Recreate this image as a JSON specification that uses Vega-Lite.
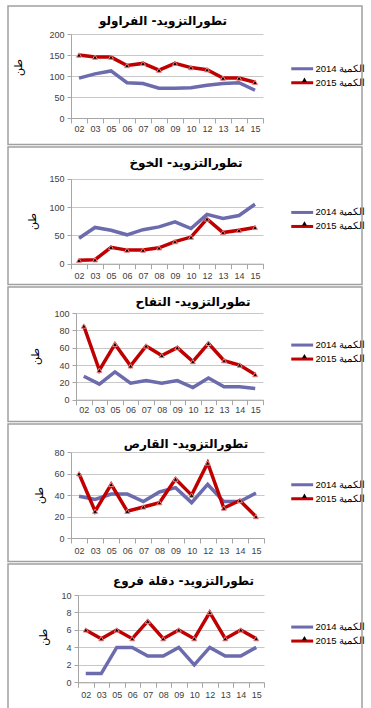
{
  "$schema": "https://vega.github.io/schema/vega-lite/v6.json",
  "padding": {"left": 7, "top": 5, "right": 0, "bottom": 0},
  "spacing": 0,
  "config": {
    "view": {"stroke": "#A0A0A0", "strokeWidth": 1.5},
    "font": "Liberation Sans",
    "axis": {"labelFont": "Liberation Sans", "labelFontSize": 9, "labelColor": "#404040", "domainColor": "#A6A6A6", "tickColor": "#A6A6A6", "gridColor": "#C8C8C8", "titleFont": "DejaVu Sans", "titleFontWeight": "normal", "titleFontSize": 11, "titleColor": "#000000"},
    "title": {"font": "DejaVu Sans", "fontSize": 12, "fontWeight": "bold", "color": "#000000", "anchor": "middle", "baseline": "middle"},
    "legend": {"title": null, "padding": 0, "labelFont": "Liberation Sans", "labelFontSize": 9.5, "labelColor": "#000000"}
  },
  "datasets": {
    "d": [
      {"p":1,"m":"02","s":"الكمية 2014","v":95},{"p":1,"m":"03","s":"الكمية 2014","v":105},{"p":1,"m":"05","s":"الكمية 2014","v":112},{"p":1,"m":"06","s":"الكمية 2014","v":84},{"p":1,"m":"07","s":"الكمية 2014","v":82},{"p":1,"m":"08","s":"الكمية 2014","v":71},{"p":1,"m":"09","s":"الكمية 2014","v":71},{"p":1,"m":"10","s":"الكمية 2014","v":72},{"p":1,"m":"12","s":"الكمية 2014","v":78},{"p":1,"m":"13","s":"الكمية 2014","v":82},{"p":1,"m":"14","s":"الكمية 2014","v":84},{"p":1,"m":"15","s":"الكمية 2014","v":66},
      {"p":1,"m":"02","s":"الكمية 2015","v":150},{"p":1,"m":"03","s":"الكمية 2015","v":145},{"p":1,"m":"05","s":"الكمية 2015","v":145},{"p":1,"m":"06","s":"الكمية 2015","v":125},{"p":1,"m":"07","s":"الكمية 2015","v":130},{"p":1,"m":"08","s":"الكمية 2015","v":114},{"p":1,"m":"09","s":"الكمية 2015","v":130},{"p":1,"m":"10","s":"الكمية 2015","v":120},{"p":1,"m":"12","s":"الكمية 2015","v":115},{"p":1,"m":"13","s":"الكمية 2015","v":95},{"p":1,"m":"14","s":"الكمية 2015","v":95},{"p":1,"m":"15","s":"الكمية 2015","v":85},
      {"p":2,"m":"02","s":"الكمية 2014","v":45},{"p":2,"m":"03","s":"الكمية 2014","v":64},{"p":2,"m":"05","s":"الكمية 2014","v":59},{"p":2,"m":"06","s":"الكمية 2014","v":51},{"p":2,"m":"07","s":"الكمية 2014","v":60},{"p":2,"m":"08","s":"الكمية 2014","v":65},{"p":2,"m":"09","s":"الكمية 2014","v":74},{"p":2,"m":"10","s":"الكمية 2014","v":62},{"p":2,"m":"12","s":"الكمية 2014","v":87},{"p":2,"m":"13","s":"الكمية 2014","v":80},{"p":2,"m":"14","s":"الكمية 2014","v":85},{"p":2,"m":"15","s":"الكمية 2014","v":105},
      {"p":2,"m":"02","s":"الكمية 2015","v":6},{"p":2,"m":"03","s":"الكمية 2015","v":7},{"p":2,"m":"05","s":"الكمية 2015","v":29},{"p":2,"m":"06","s":"الكمية 2015","v":24},{"p":2,"m":"07","s":"الكمية 2015","v":24},{"p":2,"m":"08","s":"الكمية 2015","v":28},{"p":2,"m":"09","s":"الكمية 2015","v":39},{"p":2,"m":"10","s":"الكمية 2015","v":47},{"p":2,"m":"12","s":"الكمية 2015","v":79},{"p":2,"m":"13","s":"الكمية 2015","v":55},{"p":2,"m":"14","s":"الكمية 2015","v":59},{"p":2,"m":"15","s":"الكمية 2015","v":64},
      {"p":3,"m":"02","s":"الكمية 2014","v":27},{"p":3,"m":"03","s":"الكمية 2014","v":18},{"p":3,"m":"05","s":"الكمية 2014","v":32},{"p":3,"m":"06","s":"الكمية 2014","v":19},{"p":3,"m":"07","s":"الكمية 2014","v":22},{"p":3,"m":"08","s":"الكمية 2014","v":19},{"p":3,"m":"09","s":"الكمية 2014","v":22},{"p":3,"m":"10","s":"الكمية 2014","v":14},{"p":3,"m":"12","s":"الكمية 2014","v":25},{"p":3,"m":"13","s":"الكمية 2014","v":15},{"p":3,"m":"14","s":"الكمية 2014","v":15},{"p":3,"m":"15","s":"الكمية 2014","v":13},
      {"p":3,"m":"02","s":"الكمية 2015","v":85},{"p":3,"m":"03","s":"الكمية 2015","v":34},{"p":3,"m":"05","s":"الكمية 2015","v":64},{"p":3,"m":"06","s":"الكمية 2015","v":39},{"p":3,"m":"07","s":"الكمية 2015","v":62},{"p":3,"m":"08","s":"الكمية 2015","v":51},{"p":3,"m":"09","s":"الكمية 2015","v":60},{"p":3,"m":"10","s":"الكمية 2015","v":44},{"p":3,"m":"12","s":"الكمية 2015","v":65},{"p":3,"m":"13","s":"الكمية 2015","v":45},{"p":3,"m":"14","s":"الكمية 2015","v":40},{"p":3,"m":"15","s":"الكمية 2015","v":29},
      {"p":4,"m":"02","s":"الكمية 2014","v":39},{"p":4,"m":"03","s":"الكمية 2014","v":36},{"p":4,"m":"05","s":"الكمية 2014","v":41},{"p":4,"m":"06","s":"الكمية 2014","v":41},{"p":4,"m":"07","s":"الكمية 2014","v":34},{"p":4,"m":"08","s":"الكمية 2014","v":43},{"p":4,"m":"09","s":"الكمية 2014","v":47},{"p":4,"m":"10","s":"الكمية 2014","v":33},{"p":4,"m":"12","s":"الكمية 2014","v":50},{"p":4,"m":"13","s":"الكمية 2014","v":34},{"p":4,"m":"14","s":"الكمية 2014","v":34},{"p":4,"m":"15","s":"الكمية 2014","v":42},
      {"p":4,"m":"02","s":"الكمية 2015","v":60},{"p":4,"m":"03","s":"الكمية 2015","v":25},{"p":4,"m":"05","s":"الكمية 2015","v":50},{"p":4,"m":"06","s":"الكمية 2015","v":25},{"p":4,"m":"07","s":"الكمية 2015","v":29},{"p":4,"m":"08","s":"الكمية 2015","v":33},{"p":4,"m":"09","s":"الكمية 2015","v":55},{"p":4,"m":"10","s":"الكمية 2015","v":40},{"p":4,"m":"12","s":"الكمية 2015","v":70},{"p":4,"m":"13","s":"الكمية 2015","v":28},{"p":4,"m":"14","s":"الكمية 2015","v":35},{"p":4,"m":"15","s":"الكمية 2015","v":20},
      {"p":5,"m":"02","s":"الكمية 2014","v":1},{"p":5,"m":"03","s":"الكمية 2014","v":1},{"p":5,"m":"05","s":"الكمية 2014","v":4},{"p":5,"m":"06","s":"الكمية 2014","v":4},{"p":5,"m":"07","s":"الكمية 2014","v":3},{"p":5,"m":"08","s":"الكمية 2014","v":3},{"p":5,"m":"09","s":"الكمية 2014","v":4},{"p":5,"m":"10","s":"الكمية 2014","v":2},{"p":5,"m":"12","s":"الكمية 2014","v":4},{"p":5,"m":"13","s":"الكمية 2014","v":3},{"p":5,"m":"14","s":"الكمية 2014","v":3},{"p":5,"m":"15","s":"الكمية 2014","v":4},
      {"p":5,"m":"02","s":"الكمية 2015","v":6},{"p":5,"m":"03","s":"الكمية 2015","v":5},{"p":5,"m":"05","s":"الكمية 2015","v":6},{"p":5,"m":"06","s":"الكمية 2015","v":5},{"p":5,"m":"07","s":"الكمية 2015","v":7},{"p":5,"m":"08","s":"الكمية 2015","v":5},{"p":5,"m":"09","s":"الكمية 2015","v":6},{"p":5,"m":"10","s":"الكمية 2015","v":5},{"p":5,"m":"12","s":"الكمية 2015","v":8},{"p":5,"m":"13","s":"الكمية 2015","v":5},{"p":5,"m":"14","s":"الكمية 2015","v":6},{"p":5,"m":"15","s":"الكمية 2015","v":5}
    ]
  },
  "resolve": {"scale": {"x": "independent", "y": "independent", "color": "independent", "shape": "independent"}, "legend": {"color": "independent", "shape": "independent"}},
  "vconcat": [
    {
      "width": 354, "height": 138.5,
      "title": {"text": "تطورالتزويد- الفراولو", "offset": -27, "dx": -22, "baseline": "middle"},
      "data": {"name": "d"},
      "transform": [{"filter": "datum.p == 1"}],
      "encoding": {
        "x": {"field": "m", "type": "ordinal", "scale": {"type": "band", "range": [63, 255], "paddingInner": 0, "paddingOuter": 0}, "axis": {"offset": -26.5, "tickBand": "extent", "labelAngle": 0, "title": null, "tickSize": 5, "labelPadding": 1, "grid": false}},
        "y": {"field": "v", "type": "quantitative", "scale": {"domain": [0, 200], "range": [112, 28], "nice": false}, "axis": {"offset": -63, "values": [0, 50, 100, 150, 200], "title": "طن", "titleX": -48, "titleY": 61, "tickSize": 4, "labelPadding": 3, "grid": true}}
      },
      "layer": [
        {"mark": {"type": "line", "strokeWidth": 3.5}, "encoding": {"color": {"field": "s", "type": "nominal", "scale": {"domain": ["الكمية 2014", "الكمية 2015"], "range": ["#6B6BAD", "#C00000"]}, "legend": {"orient": "none", "legendX": 298, "legendY": 58, "symbolType": "M-6.5,0H0.8", "symbolSize": 36, "symbolStrokeWidth": 3, "labelOffset": 0, "rowPadding": 1}}}},
        {"transform": [{"filter": "datum.s == 'الكمية 2015'"}], "mark": {"type": "point", "filled": true, "fill": "#000000", "stroke": "#F08080", "strokeWidth": 1, "size": 25, "opacity": 1}, "encoding": {"shape": {"field": "s", "type": "nominal", "scale": {"domain": ["الكمية 2015"], "range": ["triangle-up"]}, "legend": {"orient": "none", "legendX": 291.7, "legendY": 69, "symbolSize": 25, "symbolFillColor": "#000000", "symbolStrokeColor": "#F08080", "symbolStrokeWidth": 1, "labelExpr": "''"}}}}
      ]
    },
    {
      "width": 354, "height": 137.5,
      "title": {"text": "تطورالتزويد- الخوخ", "offset": -28, "dx": 1, "baseline": "middle"},
      "data": {"name": "d"},
      "transform": [{"filter": "datum.p == 2"}],
      "encoding": {
        "x": {"field": "m", "type": "ordinal", "scale": {"type": "band", "range": [63, 255], "paddingInner": 0, "paddingOuter": 0}, "axis": {"offset": -20.8, "tickBand": "extent", "labelAngle": 0, "title": null, "tickSize": 5, "labelPadding": 3, "grid": false}},
        "y": {"field": "v", "type": "quantitative", "scale": {"domain": [0, 150], "range": [116.7, 31.7], "nice": false}, "axis": {"offset": -63, "values": [0, 50, 100, 150], "title": "طن", "titleX": -34, "titleY": 74, "tickSize": 4, "labelPadding": 3, "grid": true}}
      },
      "layer": [
        {"mark": {"type": "line", "strokeWidth": 3.5}, "encoding": {"color": {"field": "s", "type": "nominal", "scale": {"domain": ["الكمية 2014", "الكمية 2015"], "range": ["#6B6BAD", "#C00000"]}, "legend": {"orient": "none", "legendX": 298, "legendY": 60.7, "symbolType": "M-6.5,0H0.8", "symbolSize": 36, "symbolStrokeWidth": 3, "labelOffset": 0, "rowPadding": 1}}}},
        {"transform": [{"filter": "datum.s == 'الكمية 2015'"}], "mark": {"type": "point", "filled": true, "fill": "#000000", "stroke": "#F08080", "strokeWidth": 1, "size": 25, "opacity": 1}, "encoding": {"shape": {"field": "s", "type": "nominal", "scale": {"domain": ["الكمية 2015"], "range": ["triangle-up"]}, "legend": {"orient": "none", "legendX": 291.7, "legendY": 71.7, "symbolSize": 25, "symbolFillColor": "#000000", "symbolStrokeColor": "#F08080", "symbolStrokeWidth": 1, "labelExpr": "''"}}}}
      ]
    },
    {
      "width": 354, "height": 134.5,
      "title": {"text": "تطورالتزويد- التفاح", "offset": -26.7, "dx": 8, "baseline": "middle"},
      "data": {"name": "d"},
      "transform": [{"filter": "datum.p == 3"}],
      "encoding": {
        "x": {"field": "m", "type": "ordinal", "scale": {"type": "band", "range": [68, 255], "paddingInner": 0, "paddingOuter": 0}, "axis": {"offset": -21.8, "tickBand": "extent", "labelAngle": 0, "title": null, "tickSize": 5, "labelPadding": 1, "grid": false}},
        "y": {"field": "v", "type": "quantitative", "scale": {"domain": [0, 100], "range": [112.7, 26], "nice": false}, "axis": {"offset": -68, "values": [0, 20, 40, 60, 80, 100], "title": "طن", "titleX": -36, "titleY": 69, "tickSize": 4, "labelPadding": 3, "grid": true}}
      },
      "layer": [
        {"mark": {"type": "line", "strokeWidth": 3.5}, "encoding": {"color": {"field": "s", "type": "nominal", "scale": {"domain": ["الكمية 2014", "الكمية 2015"], "range": ["#6B6BAD", "#C00000"]}, "legend": {"orient": "none", "legendX": 298, "legendY": 53.3, "symbolType": "M-6.5,0H0.8", "symbolSize": 36, "symbolStrokeWidth": 3, "labelOffset": 0, "rowPadding": 1}}}},
        {"transform": [{"filter": "datum.s == 'الكمية 2015'"}], "mark": {"type": "point", "filled": true, "fill": "#000000", "stroke": "#F08080", "strokeWidth": 1, "size": 25, "opacity": 1}, "encoding": {"shape": {"field": "s", "type": "nominal", "scale": {"domain": ["الكمية 2015"], "range": ["triangle-up"]}, "legend": {"orient": "none", "legendX": 291.7, "legendY": 64.3, "symbolSize": 25, "symbolFillColor": "#000000", "symbolStrokeColor": "#F08080", "symbolStrokeWidth": 1, "labelExpr": "''"}}}}
      ]
    },
    {
      "width": 354, "height": 137.5,
      "title": {"text": "تطورالتزويد- القارص", "offset": -31.7, "dx": 1, "baseline": "middle"},
      "data": {"name": "d"},
      "transform": [{"filter": "datum.p == 4"}],
      "encoding": {
        "x": {"field": "m", "type": "ordinal", "scale": {"type": "band", "range": [63, 256], "paddingInner": 0, "paddingOuter": 0}, "axis": {"offset": -23.5, "tickBand": "extent", "labelAngle": 0, "title": null, "tickSize": 5, "labelPadding": 3, "grid": false}},
        "y": {"field": "v", "type": "quantitative", "scale": {"domain": [0, 80], "range": [114, 28.3], "nice": false}, "axis": {"offset": -63, "values": [0, 20, 40, 60, 80], "title": "طن", "titleX": -27, "titleY": 71, "tickSize": 4, "labelPadding": 3, "grid": true}}
      },
      "layer": [
        {"mark": {"type": "line", "strokeWidth": 3.5}, "encoding": {"color": {"field": "s", "type": "nominal", "scale": {"domain": ["الكمية 2014", "الكمية 2015"], "range": ["#6B6BAD", "#C00000"]}, "legend": {"orient": "none", "legendX": 298, "legendY": 56, "symbolType": "M-6.5,0H0.8", "symbolSize": 36, "symbolStrokeWidth": 3, "labelOffset": 0, "rowPadding": 1}}}},
        {"transform": [{"filter": "datum.s == 'الكمية 2015'"}], "mark": {"type": "point", "filled": true, "fill": "#000000", "stroke": "#F08080", "strokeWidth": 1, "size": 25, "opacity": 1}, "encoding": {"shape": {"field": "s", "type": "nominal", "scale": {"domain": ["الكمية 2015"], "range": ["triangle-up"]}, "legend": {"orient": "none", "legendX": 291.7, "legendY": 67, "symbolSize": 25, "symbolFillColor": "#000000", "symbolStrokeColor": "#F08080", "symbolStrokeWidth": 1, "labelExpr": "''"}}}}
      ]
    },
    {
      "width": 354, "height": 146.5,
      "title": {"text": "تطورالتزويد- دقلة فروع", "offset": -29, "dx": -1.5, "baseline": "middle"},
      "data": {"name": "d"},
      "transform": [{"filter": "datum.p == 5"}],
      "encoding": {
        "x": {"field": "m", "type": "ordinal", "scale": {"type": "band", "range": [70, 256], "paddingInner": 0, "paddingOuter": 0}, "axis": {"offset": -28.2, "tickBand": "extent", "labelAngle": 0, "title": null, "tickSize": 5, "labelPadding": 3, "grid": false}},
        "y": {"field": "v", "type": "quantitative", "scale": {"domain": [0, 10], "range": [118.3, 31], "nice": false}, "axis": {"offset": -70, "values": [0, 2, 4, 6, 8, 10], "title": "طن", "titleX": -30, "titleY": 72.7, "tickSize": 4, "labelPadding": 3, "grid": true}}
      },
      "layer": [
        {"mark": {"type": "line", "strokeWidth": 3.5}, "encoding": {"color": {"field": "s", "type": "nominal", "scale": {"domain": ["الكمية 2014", "الكمية 2015"], "range": ["#6B6BAD", "#C00000"]}, "legend": {"orient": "none", "legendX": 298, "legendY": 58.3, "symbolType": "M-6.5,0H0.8", "symbolSize": 36, "symbolStrokeWidth": 3, "labelOffset": 0, "rowPadding": 1}}}},
        {"transform": [{"filter": "datum.s == 'الكمية 2015'"}], "mark": {"type": "point", "filled": true, "fill": "#000000", "stroke": "#F08080", "strokeWidth": 1, "size": 25, "opacity": 1}, "encoding": {"shape": {"field": "s", "type": "nominal", "scale": {"domain": ["الكمية 2015"], "range": ["triangle-up"]}, "legend": {"orient": "none", "legendX": 291.7, "legendY": 69.3, "symbolSize": 25, "symbolFillColor": "#000000", "symbolStrokeColor": "#F08080", "symbolStrokeWidth": 1, "labelExpr": "''"}}}}
      ]
    }
  ]
}
